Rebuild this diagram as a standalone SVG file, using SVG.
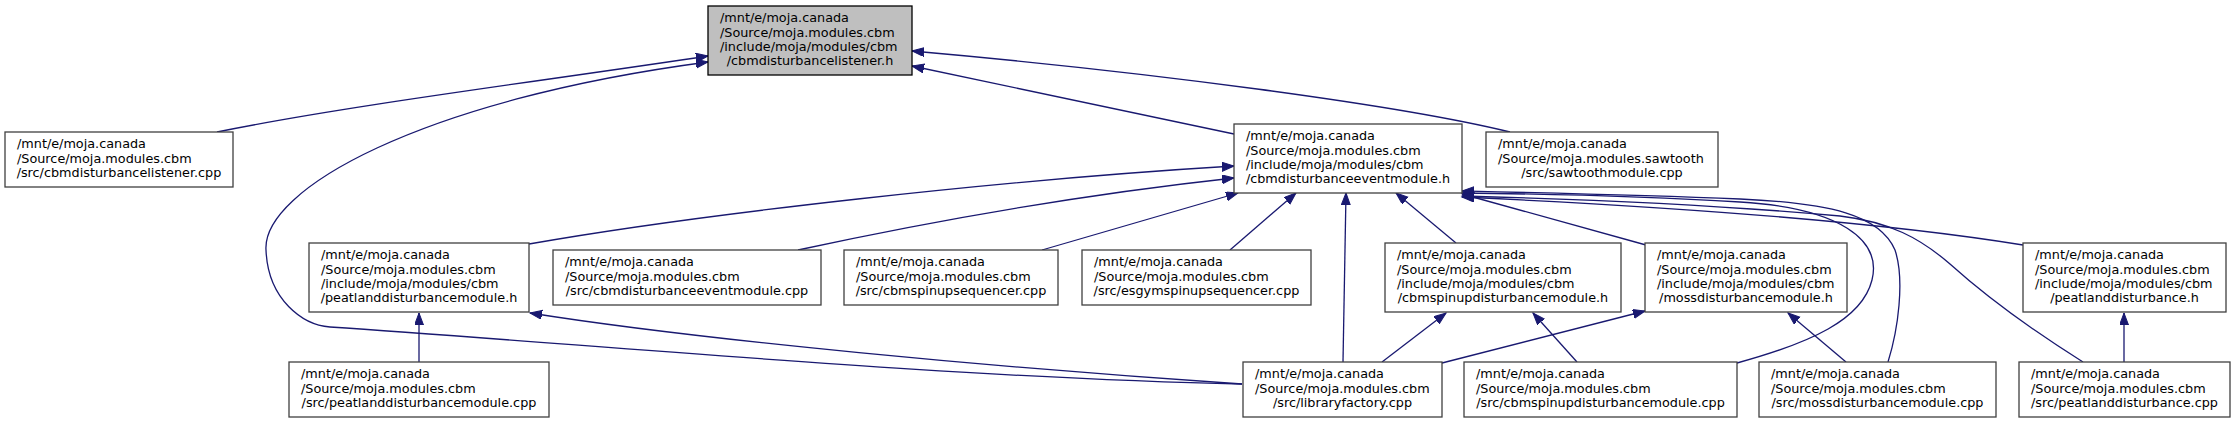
<svg xmlns="http://www.w3.org/2000/svg" width="2235" height="423" viewBox="0 0 2235 423">
<style>
.n{fill:#ffffff;stroke:#404040;stroke-width:1.3}
.m{fill:#bfbfbf;stroke:#000000;stroke-width:1.3}
text{font-family:"DejaVu Sans","Liberation Sans",sans-serif;font-size:12.8px;fill:#000}
.c{text-anchor:middle}
.e{fill:none;stroke:#191970;stroke-width:1.3;marker-end:url(#ah)}
</style>
<defs>
<marker id="ah" markerUnits="userSpaceOnUse" markerWidth="14" markerHeight="10" refX="12" refY="4.5" orient="auto">
<path d="M0,0 L12,4.5 L0,9 z" fill="#191970" stroke="#191970" stroke-width="1"/>
</marker>
</defs>
<rect width="2235" height="423" fill="#ffffff"/>
<g id="edges">
<path class="e" d="M217,132 C350,105 550,80 708,56"/>
<path class="e" d="M1242,384 C950,378 600,345 330,327 C303,325 268,300 266,250 C262,190 420,100 708,62"/>
<path class="e" d="M1234,134 L912,66"/>
<path class="e" d="M1510,132 C1400,105 1150,72 912,51"/>
<path class="e" d="M529,244 C700,214 1000,180 1234,166"/>
<path class="e" d="M798,250 C900,228 1050,198 1234,178"/>
<path class="e" d="M1042,250 L1238,193"/>
<path class="e" d="M1230,250 L1296,193"/>
<path class="e" d="M1343,362 L1346,193"/>
<path class="e" d="M1456,243 L1396,193"/>
<path class="e" d="M1646,245 L1462,194"/>
<path class="e" d="M1737,363 C1810,343 1862,320 1872,280 C1882,240 1840,208 1740,202 C1640,196 1550,194 1462,193"/>
<path class="e" d="M1888,362 C1898,330 1905,280 1895,250 C1880,215 1830,203 1740,199 C1640,195 1550,193 1462,191"/>
<path class="e" d="M2083,362 C2040,335 1990,300 1950,264 C1920,238 1890,222 1840,216 C1720,205 1580,199 1462,196"/>
<path class="e" d="M2023,245 C1900,225 1700,208 1462,197"/>
<path class="e" d="M419,362 L419,313"/>
<path class="e" d="M1242,384 C1000,368 700,340 530,313"/>
<path class="e" d="M1382,362 L1446,313"/>
<path class="e" d="M1577,362 L1533,313"/>
<path class="e" d="M1442,363 L1645,311"/>
<path class="e" d="M1846,362 L1788,313"/>
<path class="e" d="M2124,362 L2124,313"/>
</g>
<g id="node0">
<rect class="m" x="708" y="6" width="204" height="69"/>
<text x="720" y="22.3">/mnt/e/moja.canada</text>
<text x="720" y="36.6">/Source/moja.modules.cbm</text>
<text x="720" y="50.9">/include/moja/modules/cbm</text>
<text class="c" x="810" y="65.2">/cbmdisturbancelistener.h</text>
</g>
<g id="node1">
<rect class="n" x="5" y="132" width="228" height="55"/>
<text x="17" y="148.3">/mnt/e/moja.canada</text>
<text x="17" y="162.6">/Source/moja.modules.cbm</text>
<text class="c" x="119" y="176.9">/src/cbmdisturbancelistener.cpp</text>
</g>
<g id="node2">
<rect class="n" x="1234" y="124" width="228" height="69"/>
<text x="1246" y="140.3">/mnt/e/moja.canada</text>
<text x="1246" y="154.6">/Source/moja.modules.cbm</text>
<text x="1246" y="168.9">/include/moja/modules/cbm</text>
<text class="c" x="1348" y="183.2">/cbmdisturbanceeventmodule.h</text>
</g>
<g id="node3">
<rect class="n" x="1486" y="132" width="232" height="55"/>
<text x="1498" y="148.3">/mnt/e/moja.canada</text>
<text x="1498" y="162.6">/Source/moja.modules.sawtooth</text>
<text class="c" x="1602" y="176.9">/src/sawtoothmodule.cpp</text>
</g>
<g id="node4">
<rect class="n" x="309" y="243" width="220" height="69"/>
<text x="321" y="259.3">/mnt/e/moja.canada</text>
<text x="321" y="273.6">/Source/moja.modules.cbm</text>
<text x="321" y="287.9">/include/moja/modules/cbm</text>
<text class="c" x="419" y="302.2">/peatlanddisturbancemodule.h</text>
</g>
<g id="node5">
<rect class="n" x="553" y="250" width="268" height="55"/>
<text x="565" y="266.3">/mnt/e/moja.canada</text>
<text x="565" y="280.6">/Source/moja.modules.cbm</text>
<text class="c" x="687" y="294.9">/src/cbmdisturbanceeventmodule.cpp</text>
</g>
<g id="node6">
<rect class="n" x="844" y="250" width="214" height="55"/>
<text x="856" y="266.3">/mnt/e/moja.canada</text>
<text x="856" y="280.6">/Source/moja.modules.cbm</text>
<text class="c" x="951" y="294.9">/src/cbmspinupsequencer.cpp</text>
</g>
<g id="node7">
<rect class="n" x="1082" y="250" width="229" height="55"/>
<text x="1094" y="266.3">/mnt/e/moja.canada</text>
<text x="1094" y="280.6">/Source/moja.modules.cbm</text>
<text class="c" x="1196.5" y="294.9">/src/esgymspinupsequencer.cpp</text>
</g>
<g id="node8">
<rect class="n" x="1385" y="243" width="236" height="69"/>
<text x="1397" y="259.3">/mnt/e/moja.canada</text>
<text x="1397" y="273.6">/Source/moja.modules.cbm</text>
<text x="1397" y="287.9">/include/moja/modules/cbm</text>
<text class="c" x="1503" y="302.2">/cbmspinupdisturbancemodule.h</text>
</g>
<g id="node9">
<rect class="n" x="1645" y="243" width="202" height="69"/>
<text x="1657" y="259.3">/mnt/e/moja.canada</text>
<text x="1657" y="273.6">/Source/moja.modules.cbm</text>
<text x="1657" y="287.9">/include/moja/modules/cbm</text>
<text class="c" x="1746" y="302.2">/mossdisturbancemodule.h</text>
</g>
<g id="node10">
<rect class="n" x="2023" y="243" width="203" height="69"/>
<text x="2035" y="259.3">/mnt/e/moja.canada</text>
<text x="2035" y="273.6">/Source/moja.modules.cbm</text>
<text x="2035" y="287.9">/include/moja/modules/cbm</text>
<text class="c" x="2124.5" y="302.2">/peatlanddisturbance.h</text>
</g>
<g id="node11">
<rect class="n" x="289" y="362" width="260" height="55"/>
<text x="301" y="378.3">/mnt/e/moja.canada</text>
<text x="301" y="392.6">/Source/moja.modules.cbm</text>
<text class="c" x="419" y="406.9">/src/peatlanddisturbancemodule.cpp</text>
</g>
<g id="node12">
<rect class="n" x="1243" y="362" width="199" height="55"/>
<text x="1255" y="378.3">/mnt/e/moja.canada</text>
<text x="1255" y="392.6">/Source/moja.modules.cbm</text>
<text class="c" x="1342.5" y="406.9">/src/libraryfactory.cpp</text>
</g>
<g id="node13">
<rect class="n" x="1464" y="362" width="273" height="55"/>
<text x="1476" y="378.3">/mnt/e/moja.canada</text>
<text x="1476" y="392.6">/Source/moja.modules.cbm</text>
<text class="c" x="1600.5" y="406.9">/src/cbmspinupdisturbancemodule.cpp</text>
</g>
<g id="node14">
<rect class="n" x="1759" y="362" width="237" height="55"/>
<text x="1771" y="378.3">/mnt/e/moja.canada</text>
<text x="1771" y="392.6">/Source/moja.modules.cbm</text>
<text class="c" x="1877.5" y="406.9">/src/mossdisturbancemodule.cpp</text>
</g>
<g id="node15">
<rect class="n" x="2019" y="362" width="211" height="55"/>
<text x="2031" y="378.3">/mnt/e/moja.canada</text>
<text x="2031" y="392.6">/Source/moja.modules.cbm</text>
<text class="c" x="2124.5" y="406.9">/src/peatlanddisturbance.cpp</text>
</g>
</svg>
